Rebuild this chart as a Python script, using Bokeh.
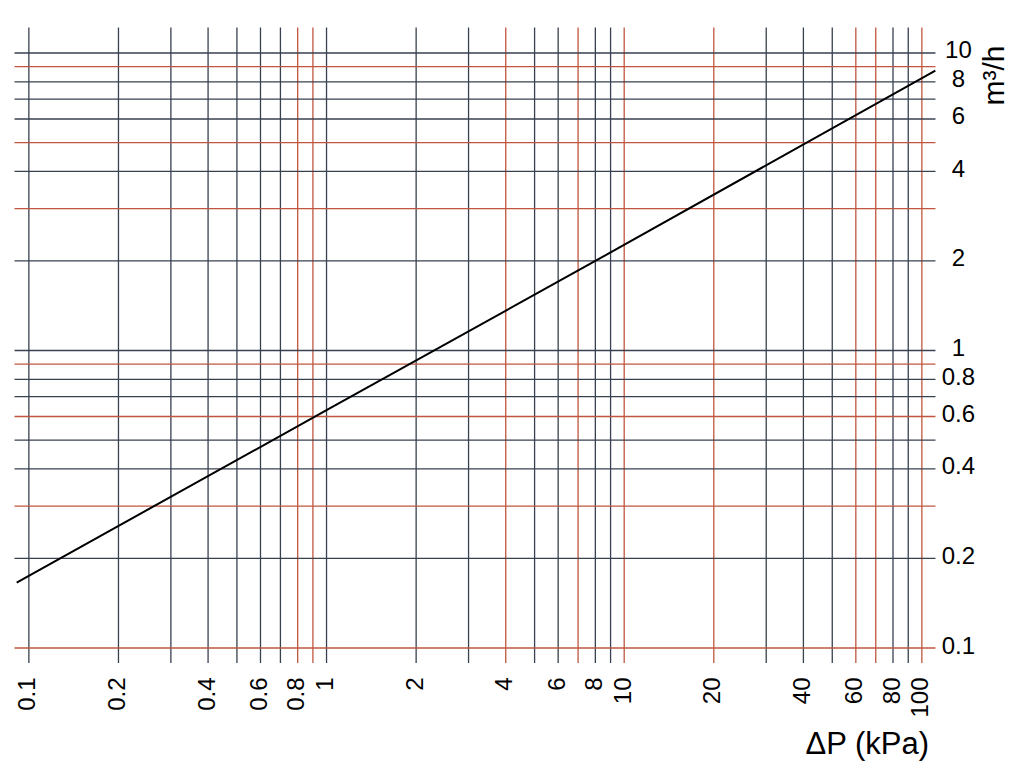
from math import pi
from bokeh.plotting import figure
from bokeh.models import Range1d
from bokeh.core.properties import value
from bokeh.embed import file_html
from bokeh.resources import INLINE

# Flow curve (pressure drop in kPa vs flow in m3/h)
dp = [0.091, 1, 8, 111]
flow = [0.166, 0.63, 2.0, 8.73]

# Labelled ticks
x_ticks = [0.1, 0.2, 0.4, 0.6, 0.8, 1, 2, 4, 6, 8, 10, 20, 40, 60, 80, 100]
x_labels = ["0.1", "0.2", "0.4", "0.6", "0.8", "1", "2", "4", "6", "8", "10",
            "20", "40", "60", "80", "100"]
y_ticks = [0.1, 0.2, 0.4, 0.6, 0.8, 1, 2, 4, 6, 8, 10]
y_labels = ["0.1", "0.2", "0.4", "0.6", "0.8", "1", "2", "4", "6", "8", "10"]

# Grid lines (two colours)
x_grid_dark = [0.1, 0.2, 0.3, 0.4, 0.5, 0.6, 0.7, 1, 2, 3, 5, 6, 8, 9, 30, 40, 50, 80, 90]
x_grid_red = [0.8, 0.9, 4, 7, 10, 20, 60, 70, 100]
y_grid_dark = [0.2, 0.4, 0.5, 0.7, 0.8, 1, 2, 4, 6, 7, 8, 10]
y_grid_red = [0.1, 0.3, 0.6, 0.9, 3, 5, 9]

x_title = "ΔP (kPa)"
y_title = "m³/h"

# --- layout / style (not data) ---
DARK = "#38414f"
RED = "#c0563f"
FONT = value("Liberation Sans")
GRID_X_LO, GRID_X_HI = 0.0895, 111.1    # extent of horizontal grid lines
GRID_Y_LO, GRID_Y_HI = 0.089, 12.18     # extent of vertical grid lines
XLAB_Y = 0.0796                          # anchor of x tick labels (top end)
YLAB_X = 132.7                           # centre of y tick labels
XT_POS = (106.1, 0.04775)                # right end / middle of x title
YT_POS = (174.0, 10.6)                   # middle / top end of y title

p = figure(width=1012, height=766, x_axis_type="log", y_axis_type="log",
           x_range=Range1d(0.0803, 201.6), y_range=Range1d(0.03997, 15.01),
           output_backend="svg", toolbar_location=None,
           x_axis_location=None, y_axis_location=None,
           min_border=0)
p.outline_line_color = None
p.xgrid.visible = False
p.ygrid.visible = False

for xs, col in [(x_grid_red, RED), (x_grid_dark, DARK)]:
    p.segment(x0=xs, y0=GRID_Y_LO, x1=xs, y1=GRID_Y_HI, line_color=col, line_width=1.3)
for ys, col in [(y_grid_red, RED), (y_grid_dark, DARK)]:
    p.segment(x0=GRID_X_LO, y0=ys, x1=GRID_X_HI, y1=ys, line_color=col, line_width=1.3)

p.line(dp, flow, line_color="black", line_width=2)

p.text(x=x_ticks, y=XLAB_Y, text=x_labels, angle=pi / 2, text_align="right",
       text_baseline="middle", x_offset=-2, text_font=FONT,
       text_font_size="24px", text_color="black")
p.text(x=YLAB_X, y=y_ticks, text=y_labels, text_align="center",
       text_baseline="middle", y_offset=-3, text_font=FONT,
       text_font_size="24px", text_color="black")

p.text(x=[XT_POS[0]], y=[XT_POS[1]], text=[x_title], text_align="right",
       text_baseline="middle", text_font=FONT, text_font_size="31px",
       text_color="black")
p.text(x=[YT_POS[0]], y=[YT_POS[1]], text=[y_title], angle=pi / 2, text_align="right",
       text_baseline="middle", text_font=FONT, text_font_size="30px",
       text_color="black")

open("out.html", "w").write(file_html(p, INLINE))
